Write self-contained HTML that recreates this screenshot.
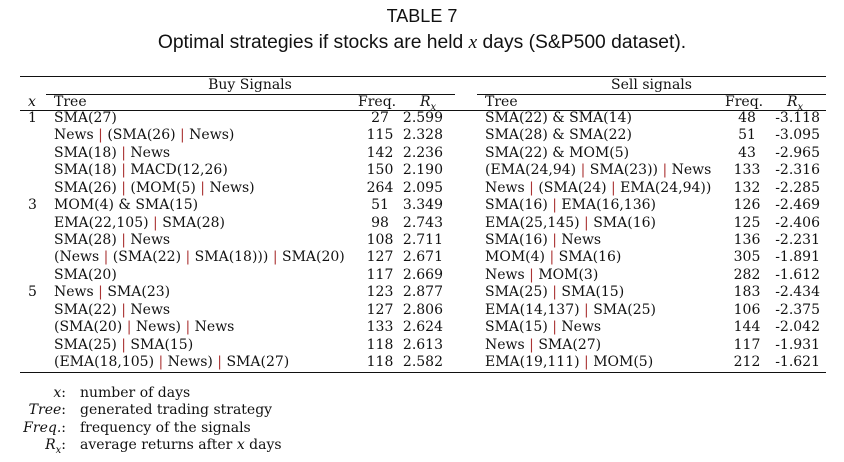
<!DOCTYPE html>
<html><head><meta charset="utf-8"><style>
body{margin:0;width:844px;height:462px;background:#fff;position:relative;overflow:hidden;font-family:"DejaVu Serif",serif;color:#111}
.t{position:absolute;white-space:nowrap;font-size:14px;line-height:18px}
.s{font-family:"Liberation Sans",sans-serif;font-size:19.3px;left:0;width:844px;text-align:center}
.r{position:absolute;background:#111}
.p{color:#a33}
.r1{text-align:right}
i{font-style:italic}
sub{font-size:10px}
</style></head><body>
<div class="t s" style="top:7px;font-size:18px">TABLE 7</div>
<div class="t s" style="top:34px">Optimal strategies if stocks are held <i style="font-family:'Liberation Serif',serif">x</i> days (S&amp;P500 dataset).</div>
<div class="r" style="left:20px;top:76px;width:806px;height:1px"></div>
<div class="t" style="left:0;width:500px;text-align:center;top:76px">Buy Signals</div>
<div class="t" style="left:477px;width:349px;text-align:center;top:76px">Sell signals</div>
<div class="r" style="left:46px;top:94px;width:409px;height:1px"></div>
<div class="r" style="left:477px;top:94px;width:349px;height:1px"></div>
<div class="t" style="left:28px;top:93px"><i>x</i></div>
<div class="t" style="left:54px;top:93px">Tree</div>
<div class="t" style="left:358px;top:93px">Freq.</div>
<div class="t" style="left:420px;top:93px"><i>R<sub>x</sub></i></div>
<div class="t" style="left:485px;top:93px">Tree</div>
<div class="t" style="left:725px;top:93px">Freq.</div>
<div class="t" style="left:787px;top:93px"><i>R<sub>x</sub></i></div>
<div class="r" style="left:20px;top:110px;width:806px;height:1px"></div>
<div id="rows"></div>
<div class="r" style="left:20px;top:372px;width:806px;height:1px"></div>
<div class="t r1" style="left:0;width:66px;top:384px"><i>x</i>:</div>
<div class="t" style="left:80px;top:384px">number of days</div>
<div class="t r1" style="left:0;width:66px;top:401px"><i>Tree</i>:</div>
<div class="t" style="left:80px;top:401px">generated trading strategy</div>
<div class="t r1" style="left:0;width:66px;top:419px"><i>Freq.</i>:</div>
<div class="t" style="left:80px;top:419px">frequency of the signals</div>
<div class="t r1" style="left:0;width:66px;top:436px"><i>R<sub>x</sub></i>:</div>
<div class="t" style="left:80px;top:436px">average returns after <i>x</i> days</div>
<script>
const xs=["1","","","","","3","","","","","5","","","",""];
const buyTree=["SMA(27)","News | (SMA(26) | News)","SMA(18) | News","SMA(18) | MACD(12,26)","SMA(26) | (MOM(5) | News)","MOM(4) & SMA(15)","EMA(22,105) | SMA(28)","SMA(28) | News","(News | (SMA(22) | SMA(18))) | SMA(20)","SMA(20)","News | SMA(23)","SMA(22) | News","(SMA(20) | News) | News","SMA(25) | SMA(15)","(EMA(18,105) | News) | SMA(27)"];
const buyFreq=[27,115,142,150,264,51,98,108,127,117,123,127,133,118,118];
const buyRx=["2.599","2.328","2.236","2.190","2.095","3.349","2.743","2.711","2.671","2.669","2.877","2.806","2.624","2.613","2.582"];
const sellTree=["SMA(22) & SMA(14)","SMA(28) & SMA(22)","SMA(22) & MOM(5)","(EMA(24,94) | SMA(23)) | News","News | (SMA(24) | EMA(24,94))","SMA(16) | EMA(16,136)","EMA(25,145) | SMA(16)","SMA(16) | News","MOM(4) | SMA(16)","News | MOM(3)","SMA(25) | SMA(15)","EMA(14,137) | SMA(25)","SMA(15) | News","News | SMA(27)","EMA(19,111) | MOM(5)"];
const sellFreq=[48,51,43,133,132,126,125,136,305,282,183,106,144,117,212];
const sellRx=["-3.118","-3.095","-2.965","-2.316","-2.285","-2.469","-2.406","-2.231","-1.891","-1.612","-2.434","-2.375","-2.042","-1.931","-1.621"];
const esc=s=>s.replace(/&/g,"&amp;").replace(/\|/g,'<span class="p">|</span>');
const box=document.getElementById('rows');
function cell(name,left,top,html,w,align){
  const d=document.createElement('div');
  d.className='t';
  
  
  d.style.left=left+'px';d.style.top=top+'px';
  if(w){d.style.width=w+'px';d.style.textAlign=align;}
  d.innerHTML=html;box.appendChild(d);
}
for(let i=0;i<buyTree.length;i++){
  const y=109+i*17.43;
  if(xs[i]) cell('x-value',28,y,xs[i]);
  cell('buy-tree',54,y,esc(buyTree[i]));
  cell('buy-freq',355,y,String(buyFreq[i]),50,'center');
  cell('buy-rx',383,y,buyRx[i],60,'right');
  cell('sell-tree',485,y,esc(sellTree[i]));
  cell('sell-freq',722,y,String(sellFreq[i]),50,'center');
  cell('sell-rx',750,y,sellRx[i],70,'right');
}
</script>
</body></html>
